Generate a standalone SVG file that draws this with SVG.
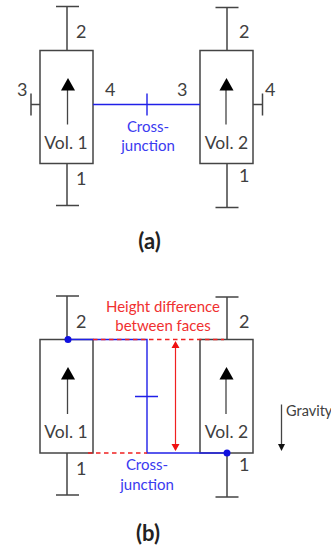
<svg xmlns="http://www.w3.org/2000/svg" width="331" height="550" viewBox="0 0 331 550">
<style>
text{font-family:"Lato","Open Sans","Liberation Sans",sans-serif;font-size:17.500px;fill:#404040}
.m{text-anchor:middle}
.b{fill:#3a3af0;font-size:15px}
.r{fill:#f03030;font-size:15px}
.t{font-size:22px;font-weight:700;fill:#222}
.n{font-size:18px}
.g{fill:none;stroke:#444;stroke-width:1.5}
.bl{fill:none;stroke:#2020e8;stroke-width:1.4}
.rd{fill:none;stroke:#f02020;stroke-width:1.2}
.da{stroke-dasharray:4.500 3.500;stroke-width:1.400}
.ar{fill:none;stroke:#444;stroke-width:1.3}
.h{fill:#000}
</style>
<rect width="331" height="550" fill="#fff"/>
<g id="vol1a">
<rect class="g" x="40" y="50.500" width="53" height="113"/>
<path class="ar" d="M67.500 124.500V88"/><path class="h" d="M68 78L61 90.500H75Z"/>
<text class="m" x="66" y="149">Vol. 1</text>
<text class="n" x="76" y="38">2</text><text class="n" x="76" y="185">1</text><text class="n" x="17" y="96">3</text><text class="n" x="105" y="96">4</text>
</g>
<g id="vol2a">
<rect class="g" x="200" y="50.500" width="53" height="113"/>
<path class="ar" d="M226 124.500V88"/><path class="h" d="M226.500 78L219.500 90.500H233.500Z"/>
<text class="m" x="226.500" y="149">Vol. 2</text>
<text class="n" x="239" y="38">2</text><text class="n" x="239" y="182">1</text><text class="n" x="177" y="96">3</text><text class="n" x="265" y="96">4</text>
</g>
<g id="vol1b">
<rect class="g" x="40" y="339.500" width="53" height="113.500"/>
<path class="ar" d="M67.500 414V378"/><path class="h" d="M68 367L61 379.500H75Z"/>
<text class="m" x="66" y="438">Vol. 1</text>
<text class="n" x="76" y="328">2</text><text class="n" x="76" y="475">1</text>
</g>
<g id="vol2b">
<rect class="g" x="200" y="339.500" width="53" height="113.500"/>
<path class="ar" d="M226 414V378"/><path class="h" d="M226.500 367L219.500 379.500H233.500Z"/>
<text class="m" x="226.500" y="438">Vol. 2</text>
<text class="n" x="239" y="328">2</text><text class="n" x="239" y="471">1</text>
</g>
<g id="connectors">
<path class="g" d="M67 50V6.500M56 6.500H79M67 163V205.500M56 205.500H79"/>
<path class="g" d="M227 50V7.500M215.500 7.500H238.500M227 163V207.500M215.500 207.500H238.500"/>
<path class="g" d="M40 104.500H31M31 93.500V115.500M253 104.500H262.500M262.500 93.500V115.500"/>
<path class="bl" d="M93 104.500H200M147 93.500V115.500"/>
<path class="g" d="M67 339.500V296M56 296H79M67 453V495M56 495H79"/>
<path class="g" d="M227 339.500V297M215.500 297H238.500M227 453V497M215.500 497H238.500"/>
<path class="bl" d="M68 339.500H147V453H227M135 396.500H158"/>
<path class="rd da" d="M93 339.500H224M88 453H147"/>
<path class="rd" d="M175.500 345V450"/>
<path fill="#f01010" d="M175.500 341L171.500 348H179.500ZM175.500 451L171.500 444H179.500Z"/>
<path class="ar" d="M281.500 404.500V447"/>
<path fill="#111" d="M281.500 451L278 444H285Z"/>
<circle cx="68" cy="339.500" r="3.500" fill="#1010e0"/>
<circle cx="227" cy="453" r="3.500" fill="#1010e0"/>
</g>
<g id="crossjunctiona">
<text class="m b" x="148" y="132">Cross-</text>
<text class="m b" x="148" y="151">junction</text>
</g>
<text id="labela" class="m t" x="149.500" y="249">(a)</text>
<g id="heightlabel">
<text class="m r" x="163" y="312">Height difference</text>
<text class="m r" x="163" y="331">between faces</text>
</g>
<g id="crossjunctionb">
<text class="m b" x="147" y="470">Cross-</text>
<text class="m b" x="147" y="490">junction</text>
</g>
<text id="gravity" x="286" y="416" style="font-size:14.500px">Gravity</text>
<text id="labelb" class="m t" x="148" y="541">(b)</text>
</svg>
